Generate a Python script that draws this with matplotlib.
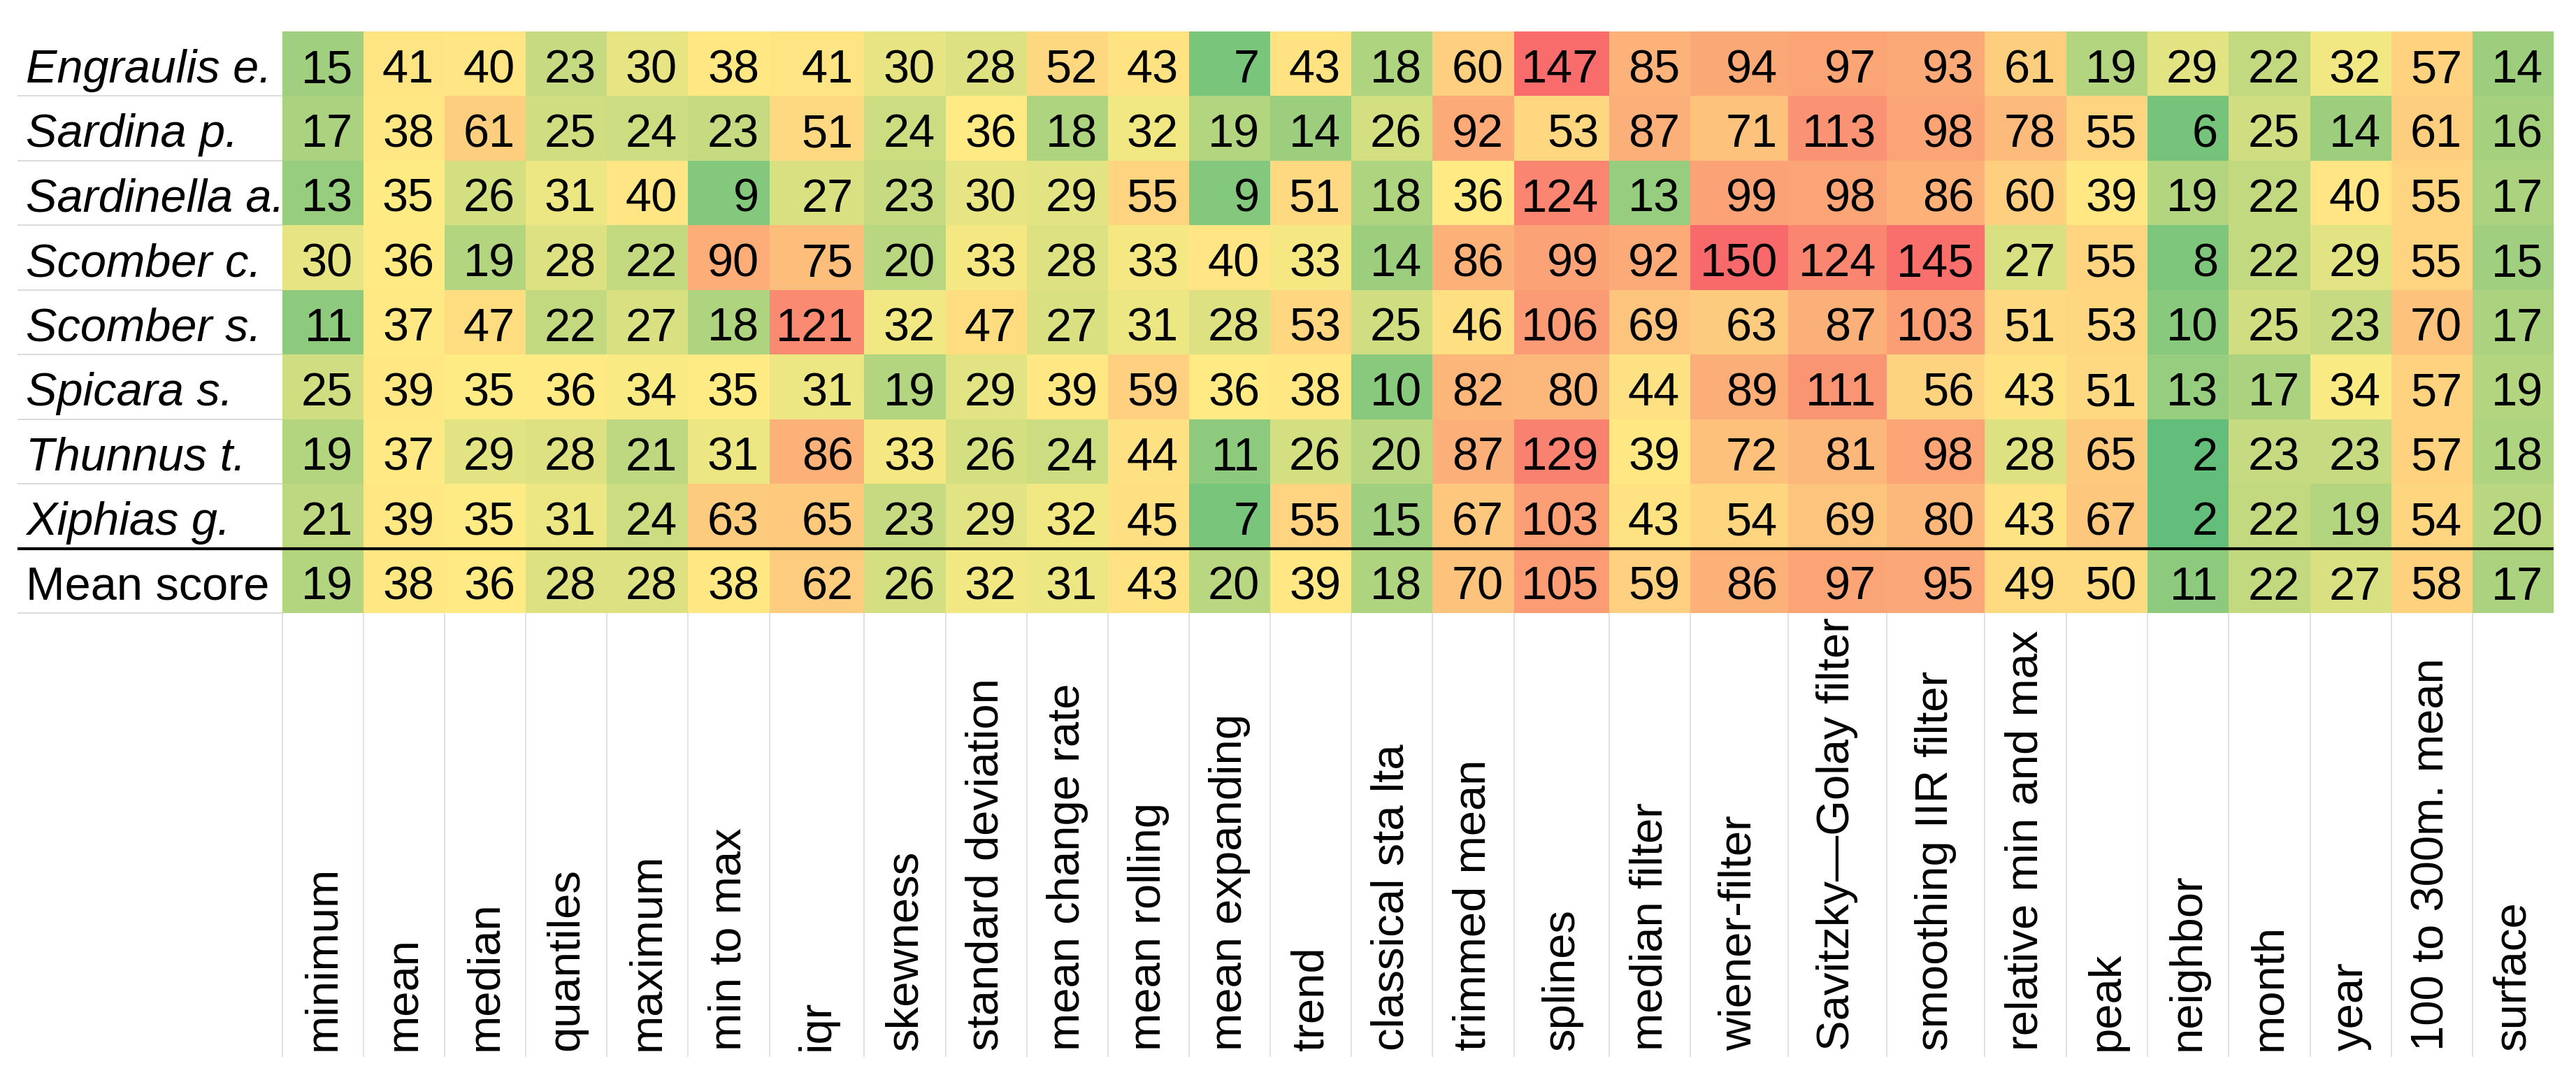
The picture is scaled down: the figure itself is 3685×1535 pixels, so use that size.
import numpy as np
import matplotlib.pyplot as plt
from matplotlib.colors import LinearSegmentedColormap, TwoSlopeNorm
from matplotlib.transforms import blended_transform_factory

plt.rcParams['font.family'] = ['Liberation Sans', 'DejaVu Sans']

# data
species = ['Engraulis e.', 'Sardina p.', 'Sardinella a.', 'Scomber c.',
           'Scomber s.', 'Spicara s.', 'Thunnus t.', 'Xiphias g.']
features = ['minimum', 'mean', 'median', 'quantiles', 'maximum', 'min to max',
            'iqr', 'skewness', 'standard deviation', 'mean change rate',
            'mean rolling', 'mean expanding', 'trend', 'classical sta lta',
            'trimmed mean', 'splines', 'median filter', 'wiener-filter',
            'Savitzky\u2014Golay filter', 'smoothing IIR filter',
            'relative min and max', 'peak', 'neighbor', 'month', 'year',
            '100 to 300m. mean', 'surface']

engraulis = [15, 41, 40, 23, 30, 38, 41, 30, 28, 52, 43, 7, 43, 18, 60, 147, 85, 94, 97, 93, 61, 19, 29, 22, 32, 57, 14]
sardina = [17, 38, 61, 25, 24, 23, 51, 24, 36, 18, 32, 19, 14, 26, 92, 53, 87, 71, 113, 98, 78, 55, 6, 25, 14, 61, 16]
sardinella = [13, 35, 26, 31, 40, 9, 27, 23, 30, 29, 55, 9, 51, 18, 36, 124, 13, 99, 98, 86, 60, 39, 19, 22, 40, 55, 17]
scomber_c = [30, 36, 19, 28, 22, 90, 75, 20, 33, 28, 33, 40, 33, 14, 86, 99, 92, 150, 124, 145, 27, 55, 8, 22, 29, 55, 15]
scomber_s = [11, 37, 47, 22, 27, 18, 121, 32, 47, 27, 31, 28, 53, 25, 46, 106, 69, 63, 87, 103, 51, 53, 10, 25, 23, 70, 17]
spicara = [25, 39, 35, 36, 34, 35, 31, 19, 29, 39, 59, 36, 38, 10, 82, 80, 44, 89, 111, 56, 43, 51, 13, 17, 34, 57, 19]
thunnus = [19, 37, 29, 28, 21, 31, 86, 33, 26, 24, 44, 11, 26, 20, 87, 129, 39, 72, 81, 98, 28, 65, 2, 23, 23, 57, 18]
xiphias = [21, 39, 35, 31, 24, 63, 65, 23, 29, 32, 45, 7, 55, 15, 67, 103, 43, 54, 69, 80, 43, 67, 2, 22, 19, 54, 20]
mean_score = [19, 38, 36, 28, 28, 38, 62, 26, 32, 31, 43, 20, 39, 18, 70, 105, 59, 86, 97, 95, 49, 50, 11, 22, 27, 58, 17]

# layout (pixels of the 3685x1535 output)
W, H = 3685, 1535
col_widths = [116, 116, 116, 116, 116, 117, 135, 117, 116, 116, 116, 116, 116, 116,
              117, 136, 116, 140, 141, 140, 117, 116, 116, 117, 116, 116, 116]
left, top, bottom = 404, 45, 877
label_x, line_x0 = 37, 25
labels_bottom, grid_bottom = 1503, 1512
fs = 48

row_labels = species + ['Mean score']
data = np.array([engraulis, sardina, sardinella, scomber_c, scomber_s,
                 spicara, thunnus, xiphias, mean_score])
n_rows, n_cols = data.shape

# Excel style green-yellow-red scale, midpoint at 50th percentile
cmap = LinearSegmentedColormap.from_list('gyr', ['#63BE7B', '#FFEB84', '#F8696B'], N=1024)
norm = TwoSlopeNorm(vmin=data.min(), vcenter=np.percentile(data, 50), vmax=data.max())

fig = plt.figure(figsize=(W / 100, H / 100), dpi=100)
x_edges = np.concatenate([[0], np.cumsum(col_widths)])
ax = fig.add_axes([left / W, 1 - bottom / H, x_edges[-1] / W, (bottom - top) / H])
ax.pcolormesh(x_edges, np.arange(n_rows + 1), data, cmap=cmap, norm=norm)
ax.set_xlim(0, x_edges[-1])
ax.set_ylim(n_rows, 0)
ax.axis('off')

for i in range(n_rows):
    for j in range(n_cols):
        ax.text(x_edges[j + 1] - 15, i + 0.79, str(data[i, j]), ha='right',
                va='baseline', fontsize=fs, color='black')

# row labels on the left
fig_y = blended_transform_factory(fig.transFigure, ax.transData)
for i, name in enumerate(row_labels):
    ax.text(label_x / W, i + 0.79, name, transform=fig_y, ha='left', va='baseline',
            fontsize=fs, style='italic' if name in species else 'normal')

ax.hlines(np.arange(1, n_rows + 1), line_x0 / W, left / W, transform=fig_y,
          colors='#D4D4D4', linewidth=1.2, clip_on=False)
ax.hlines([n_rows - 1], line_x0 / W, (left + x_edges[-1]) / W, transform=fig_y,
          colors='black', linewidth=3, clip_on=False)

# column labels below
fig_x = blended_transform_factory(ax.transData, fig.transFigure)
ax.vlines(x_edges[:-1], 1 - grid_bottom / H, 1 - bottom / H, transform=fig_x,
          colors='#D9D9D9', linewidth=1.1, clip_on=False)
centers = (x_edges[:-1] + x_edges[1:]) / 2
for x, name in zip(centers, features):
    ax.text(x, 1 - labels_bottom / H, name, transform=fig_x, rotation=90,
            ha='center', va='bottom', fontsize=fs - 1)

fig.savefig('out.png', dpi=100)
